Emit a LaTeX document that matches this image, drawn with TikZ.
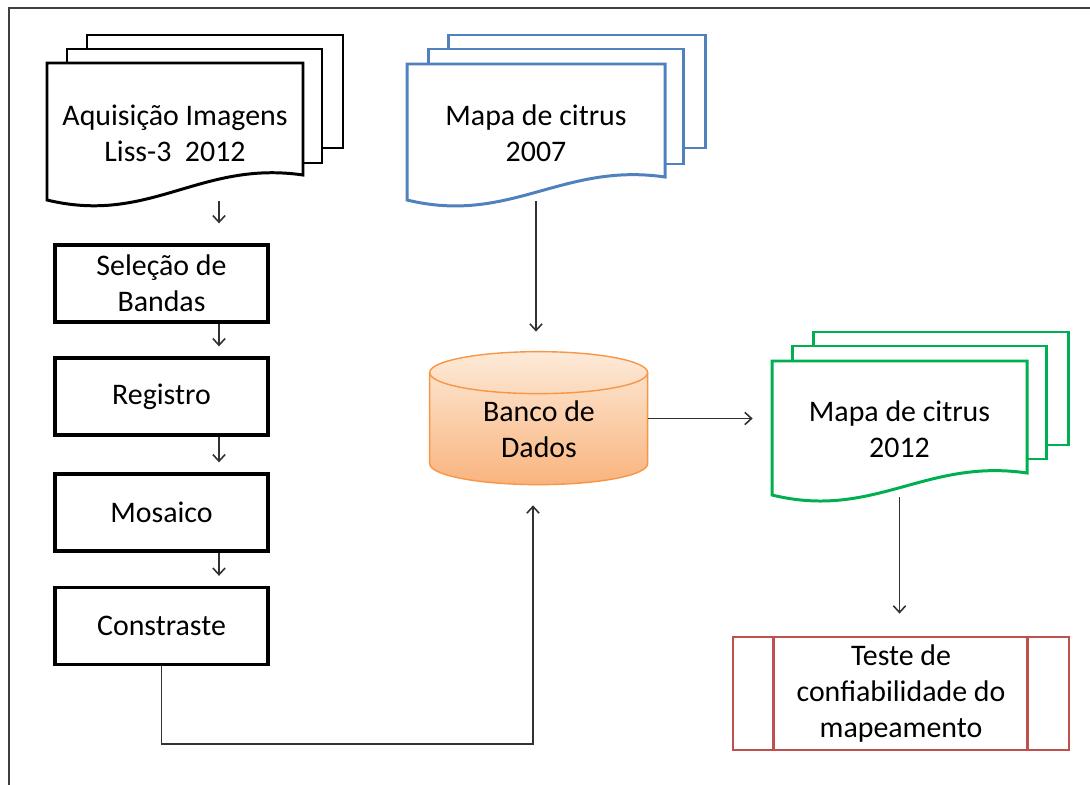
\documentclass[tikz,border=0pt]{standalone}
\usepackage{fontspec}
\setmainfont{Carlito}
\usetikzlibrary{positioning,arrows.meta}
\definecolor{docblue}{RGB}{79,129,189}
\definecolor{docgreen}{RGB}{0,176,80}
\definecolor{testred}{RGB}{192,80,77}
\definecolor{dborange}{RGB}{247,150,70}
\definecolor{dbtop}{RGB}{253,234,216}
\definecolor{dbbottom}{RGB}{249,180,126}
\definecolor{flowgray}{RGB}{50,50,50}

\begin{document}
\begin{tikzpicture}[scale=0.2,
  txt/.style={align=center, font=\fontsize{17}{20.4}\selectfont},
  docnode/.style={txt, minimum width=5.1cm, minimum height=2.7cm},
  procbox/.style={txt, draw=black, line width=1.9pt, minimum width=4.26cm, minimum height=1.54cm},
  predbox/.style={txt, draw=testred, line width=1.6pt, minimum width=6.72cm, minimum height=2.26cm},
  flow/.style={-{Straight Barb[length=3.8pt,width=7pt]}, draw=flowgray, line width=0.9pt},
  sheet/.style={line width=1.7pt, fill=white}]
\tikzstyle{every node}+=[inner sep=0pt]
\useasboundingbox (0,0) rectangle (109,-78.5);
\draw [black!75, line width=1.1pt] (0.9,-78.5) |- (109,-0.8);
% imagens liss-3
\draw [sheet, draw=black] (8.7,-3.5) rectangle (34.3,-14.8);
\draw [sheet, draw=black] (6.7,-4.9) rectangle (32.2,-16.3);
\draw [sheet, draw=black] (4.7,-6.3) -- (30.3,-6.3) -- (30.3,-17.5) .. controls (20.0,-16.0) and (15.0,-22.5) .. (4.7,-20.0) -- cycle;
\node [docnode] (aquis) at (17.5,-13.3) {Aquisição Imagens\\Liss-3\ \ 2012};
\node [procbox] (sel) at (16.15,-28.35) {Seleção de\\Bandas};
\node [procbox] (reg) at (16.15,-39.65) {Registro};
\node [procbox] (mos) at (16.15,-51.25) {Mosaico};
\node [procbox] (cons) at (16.15,-62.6) {Constraste};
\draw [flow, shorten >=0.4cm] ([xshift=4.4cm]aquis.south) -- ([xshift=4.4cm]aquis.south |- sel.north);
\draw [flow, shorten >=0.2cm] ([xshift=5.75cm]sel.south) -- ([xshift=5.75cm]reg.north);
\draw [flow, shorten >=0.2cm] ([xshift=5.75cm]reg.south) -- ([xshift=5.75cm]mos.north);
\draw [flow, shorten >=0.2cm] ([xshift=5.75cm]mos.south) -- ([xshift=5.75cm]cons.north);
% mapa 2007
\draw [sheet, draw=docblue] (44.8,-3.5) rectangle (70.5,-14.8);
\draw [sheet, draw=docblue] (42.8,-4.9) rectangle (68.3,-16.4);
\draw [sheet, draw=docblue] (40.7,-6.4) -- (66.5,-6.4) -- (66.5,-17.7) .. controls (56.2,-16.2) and (51.0,-22.5) .. (40.7,-20.0) -- cycle;
\node [docnode] (mapa07) at (53.6,-13.3) {Mapa de citrus\\2007};
% banco de dados
\node [minimum width=4.36cm, minimum height=2.66cm] (banco) at (53.9,-41.85) {};
\shadedraw [top color=dbtop, bottom color=dbbottom, draw=dborange, line width=0.8pt] (banco.north west) ++(0,-2.1) -- ++(0,-9.1) arc (180:360:10.9 and 2.1) -- ++(0,9.1) arc (0:180:10.9 and 2.1) -- cycle;
\draw [dborange, line width=0.8pt] (banco.north west) ++(0,-2.1) arc (180:360:10.9 and 2.1);
\node [txt] (bancotxt) at (53.9,-42.95) {Banco de\\Dados};
% mapa 2012
\draw [sheet, draw=docgreen] (81.3,-33.2) rectangle (106.8,-44.5);
\draw [sheet, draw=docgreen] (79.2,-34.6) rectangle (104.6,-45.9);
\draw [sheet, draw=docgreen] (77.2,-36.1) -- (102.7,-36.1) -- (102.7,-47.3) .. controls (92.5,-45.8) and (87.4,-52.0) .. (77.2,-49.5) -- cycle;
\node [docnode] (mapa12) at (89.95,-42.9) {Mapa de citrus\\2012};
\node [predbox] (teste) at (90.1,-69.35) {Teste de\\confiabilidade do\\mapeamento};
\draw [testred, line width=1.4pt] ([xshift=4.2cm]teste.north west) -- ([xshift=4.2cm]teste.south west);
\draw [testred, line width=1.4pt] ([xshift=-4.3cm]teste.north east) -- ([xshift=-4.3cm]teste.south east);
\draw [flow, shorten >=0.4cm] (mapa07.south) -- (mapa07.south |- banco.north);
\draw [flow, shorten >=0.38cm] (banco.east) -- (banco.east -| mapa12.west);
\draw [flow, shorten >=0.44cm] (mapa12.south) -- (mapa12.south |- teste.north);
\draw [flow, shorten >=0.4cm] (cons.south) -- ++(0,-7.8) -| ([xshift=-0.6cm]banco.south);
\end{tikzpicture}
\end{document}
